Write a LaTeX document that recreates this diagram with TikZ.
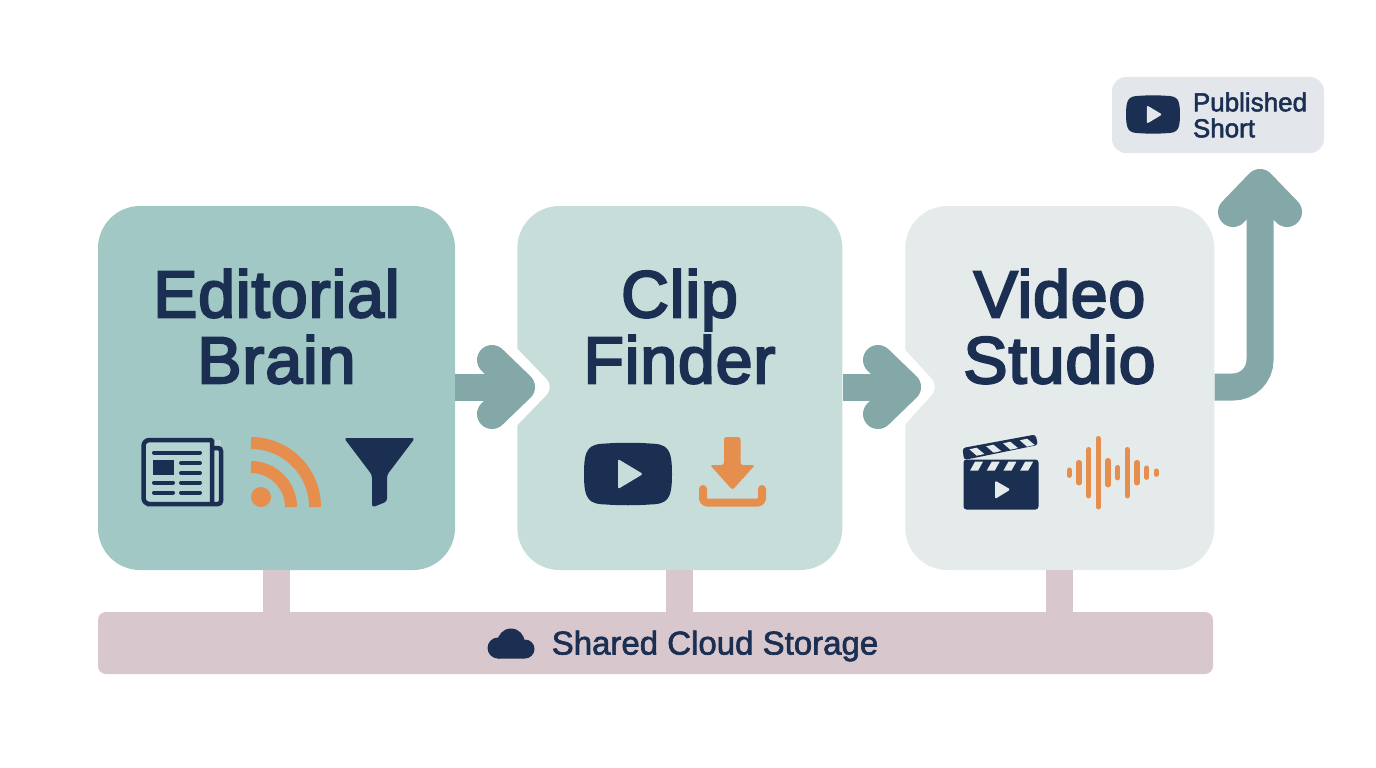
\documentclass[tikz,border=0pt]{standalone}
\usepackage{fontspec}
\setmainfont{Liberation Sans}
\newfontfamily\titlefont{Liberation Sans}[FakeBold=3.5, LetterSpace=1.5]
\newfontfamily\labelfont{Liberation Sans}[FakeBold=2]
\usetikzlibrary{arrows.meta,positioning}
\definecolor{navy}{HTML}{1B2F52}
\definecolor{orangeIcon}{HTML}{E58E4D}
\definecolor{flowTeal}{HTML}{84A7A8}
\definecolor{brainFill}{HTML}{A1C8C5}
\definecolor{clipFill}{HTML}{C7DDDA}
\definecolor{videoFill}{HTML}{E4EBEA}
\definecolor{storeFill}{HTML}{D8C8CE}
\definecolor{pubFill}{HTML}{E3E6EB}
\definecolor{pageFill}{HTML}{B6D4D2}
\tikzstyle{stageBox} = [shape = rectangle, rounded corners = 42pt, minimum height = 364pt, inner sep = 0pt]
\tikzstyle{stageTitle} = [text = navy, align = center, font = \titlefont\fontsize{66}{66}\selectfont]
\tikzstyle{flowArrow} = [draw = flowTeal, line width = 27pt, -{Straight Barb[round, length = 28pt, width = 54pt, line width = 30pt]}]
\tikzstyle{storeLink} = [draw = storeFill, line width = 27pt]
\tikzstyle{orangeLine} = [draw = orangeIcon, line cap = round, line join = round]
\tikzstyle{navyLine} = [draw = navy, line width = 4pt, line cap = round]
\tikzset{
  pics/playBadge/.style = {code = {
    \fill[navy] (-44,0) .. controls (-44,-25) and (-40,-30) .. (-22,-30.5) .. controls (-8,-31.5) and (8,-31.5) .. (22,-30.5)
      .. controls (40,-30) and (44,-25) .. (44,0) .. controls (44,25) and (40,30) .. (22,30.5)
      .. controls (8,31.5) and (-8,31.5) .. (-22,30.5) .. controls (-40,30) and (-44,25) .. (-44,0) -- cycle;
    \fill[#1, rounded corners = 2pt] (-10,-15) -- (15,0) -- (-10,15) -- cycle;
  }}
}
\begin{document}
\begin{tikzpicture}[x=1pt, y=-1pt]
	\useasboundingbox (0,0) rectangle (1376,768);

	% stages
	\node (Brain) at (276.5,388) [stageBox, fill = brainFill, minimum width = 357pt] {};
	\node (Clip) [stageBox, fill = clipFill, minimum width = 325pt, right = 62pt of Brain] {};
	\node (Video) [stageBox, fill = videoFill, minimum width = 309pt, right = 62.5pt of Clip] {};
	\node (Storage) at (655.5,643) [shape = rectangle, fill = storeFill, rounded corners = 8pt, minimum width = 1115pt, minimum height = 62pt, inner sep = 0pt] {};
	\node (Published) at (1218,115) [shape = rectangle, fill = pubFill, rounded corners = 14pt, minimum width = 212pt, minimum height = 76pt, inner sep = 0pt] {};

	\draw[storeLink] (Brain.south) -- (Brain.south |- Storage.north);
	\draw[storeLink] (Clip.south) -- (Clip.south |- Storage.north);
	\draw[storeLink] (Video.south) -- (Video.south |- Storage.north);

	% white cut round each arrow head
	\foreach \target/\tip in {Clip/37, Video/34} {
		\fill[white, rounded corners = 11pt] ([xshift = -18pt, yshift = 58pt]\target.west) -- ([xshift = \tip pt, yshift = 1pt]\target.west) -- ([xshift = -18pt, yshift = -56pt]\target.west) -- cycle;
	}

	\draw[flowArrow] (Brain.east |- 0,387) -- (535,387);
	\draw[flowArrow] (Clip.east |- 0,387) -- (921,387);
	\coordinate (PubTip) at (1260,169);
	\draw[flowArrow, rounded corners = 27pt] (Video.east |- 0,387) -| (PubTip);

	% titles
	\node (BrainTitle) at (276.5,326.5) [stageTitle] {Editorial\\Brain};
	\node (ClipTitle) at (679.5,326.5) [stageTitle] {Clip\\Finder};
	\node (VideoTitle) at (1059.5,326.5) [stageTitle] {Video\\Studio};

	% newspaper
	\fill[pageFill] (143.5,440) rectangle (221,504);
	\draw[navy, line width = 4.5pt, rounded corners = 3pt] (212,448) -- (221,448) -- (221,504) -- (150,504) [rounded corners = 6pt] -- (143.5,504) -- (143.5,440) [rounded corners = 1pt] -- (212,440) -- (212,504);
	\draw[navyLine] (154,452.5) -- (200,452.5);
	\fill[navy] (153,460) rectangle (174,475);
	\foreach \y in {463,473} {
		\draw[navyLine] (181,\y) -- (200,\y);
	}
	\foreach \y in {482.5,492.5} {
		\draw[navyLine] (154,\y) -- (173,\y);
		\draw[navyLine] (181,\y) -- (200,\y);
	}

	% rss
	\fill[orangeIcon] (261,497) circle [radius = 10];
	\draw[orangeIcon, line width = 12pt] (251,467) arc [start angle = -90, end angle = 0, radius = 40];
	\draw[orangeIcon, line width = 12pt] (251,443) arc [start angle = -90, end angle = 0, radius = 64];

	% funnel
	\fill[navy, rounded corners = 3pt] (344,438) -- (415,438) -- (387,475) -- (387,501.5) -- (372,507.5) -- (372,475) -- cycle;

	% clip finder icons
	\pic at (628,474) {playBadge = clipFill};
	\fill[orangeIcon, rounded corners = 2.5pt] (724,437) -- (740.5,437) -- (740.5,465) -- (755,465) -- (732.5,490) -- (710,465) -- (724,465) -- cycle;
	\draw[orangeLine, line width = 8pt, rounded corners = 4pt] (703,489) -- (703,502.5) -- (762,502.5) -- (762,489);

	% clapper
	\fill[navy, rounded corners = 3pt] (963.5,459.5) -- (1038.5,459.5) -- (1038.5,509.5) -- (963.5,509.5) -- cycle;
	\fill[navy, rounded corners = 3pt] (964,460) -- (962.5,448) -- (1035.5,434.5) -- (1038,445) -- cycle;
	\foreach \k in {0,...,3} {
		\fill[videoFill] ({969.4+16.8*\k},{449.3-3*\k}) -- ({976.7+16.8*\k},{447.7-3*\k}) -- ({984.4+16.8*\k},{454-3*\k}) -- ({976.7+16.8*\k},{455.7-3*\k}) -- cycle;
		\fill[videoFill] ({970+16.7*\k},470.7) -- ({975+16.7*\k},461.7) -- ({983+16.7*\k},461.7) -- ({978+16.7*\k},470.7) -- cycle;
	}
	\fill[videoFill, rounded corners = 1.5pt] (995,480.5) -- (1010.5,489.5) -- (995,499) -- cycle;

	% waveform
	\foreach \i/\h in {0/2.5, 1/10, 2/23, 3/34, 4/12, 5/5, 6/23, 7/10, 8/4.5, 9/1.5} {
		\draw[orangeLine, line width = 5.5pt] ({1069.3+9.67*\i},{472.7-\h}) -- ({1069.3+9.67*\i},{472.7+\h});
	}

	% storage label
	\fill[navy] (498,648) circle [radius = 10.5];
	\fill[navy] (511,642) circle [radius = 13.5];
	\fill[navy] (525,649) circle [radius = 9.5];
	\fill[navy, rounded corners = 2pt] (496,648) rectangle (526,658.5);
	\node (StorageLabel) at (715,646) [text = navy, font = \labelfont\fontsize{33}{33}\selectfont] {Shared Cloud Storage};

	% published
	\pic[scale = 0.613] at (1153,114.5) {playBadge = pubFill};
	\node (PublishedLabel) at (1250,115) [text = navy, align = left, font = \labelfont\fontsize{26}{26}\selectfont] {Published\\Short};
\end{tikzpicture}
\end{document}
